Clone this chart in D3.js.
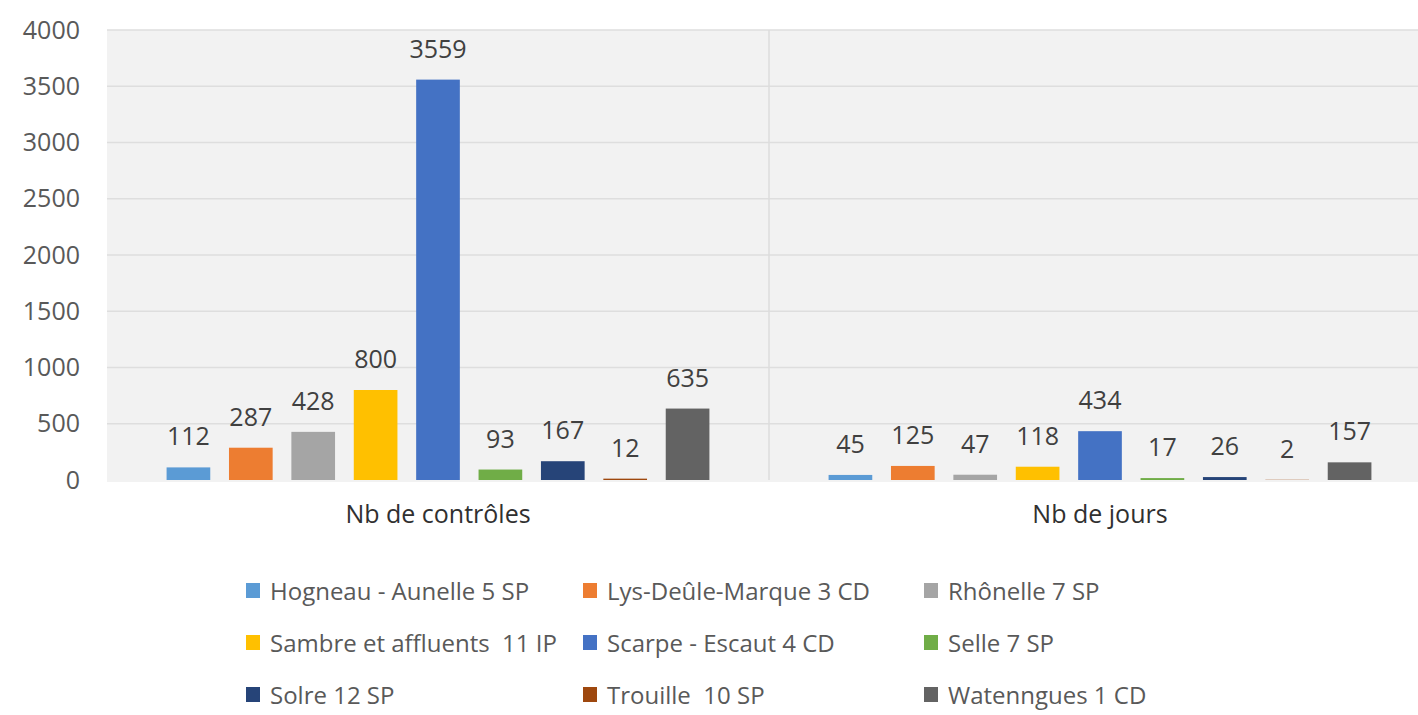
<!DOCTYPE html>
<html lang="fr">
<head>
    <meta charset="UTF-8">
    <title>Contrôles par secteur</title>
    <script src="https://d3js.org/d3.v7.min.js"></script>
    <style>
        body { margin: 0; background: #fff; }
        text { font-family: "Open Sans", "Liberation Sans", sans-serif; }
    </style>
</head>
<body>
<svg id="chart" width="1418" height="715"></svg>

<script>
// categories on the x axis
const categories = ["Nb de contrôles", "Nb de jours"];

// one series per secteur
const series = [
    "Hogneau - Aunelle 5 SP",
    "Lys-Deûle-Marque 3 CD",
    "Rhônelle 7 SP",
    "Sambre et affluents  11 IP",
    "Scarpe - Escaut 4 CD",
    "Selle 7 SP",
    "Solre 12 SP",
    "Trouille  10 SP",
    "Watenngues 1 CD"
];

const colors = ["#5b9bd5", "#ed7d31", "#a5a5a5", "#ffc000", "#4472c4",
                "#70ad47", "#264478", "#9e480e", "#636363"];

// values in the order of series, one array per category
const controles = [112, 287, 428, 800, 3559, 93, 167, 12, 635];
const jours     = [45, 125, 47, 118, 434, 17, 26, 2, 157];

const yTicks = [0, 500, 1000, 1500, 2000, 2500, 3000, 3500, 4000];

const values = [controles, jours];

const svg = d3.select("#chart");

const plotLeft = 107, plotTop = 30, plotBottom = 480;
const bandW = 662;

const x0 = d3.scaleBand()
    .domain(categories)
    .range([plotLeft, plotLeft + bandW * categories.length]);

const x1 = d3.scaleBand()
    .domain(series)
    .range([0, x0.bandwidth()])
    .paddingInner(0.3)
    .paddingOuter(0.955);

const y = d3.scaleLinear()
    .domain([0, 4000])
    .range([plotBottom, plotTop]);

// plot background
svg.append("rect")
    .attr("x", plotLeft)
    .attr("y", plotTop)
    .attr("width", 1418 - plotLeft)
    .attr("height", plotBottom - plotTop + 2)
    .attr("fill", "#f2f2f2");

// gridlines
svg.append("g")
    .selectAll("line")
    .data(yTicks.filter(d => d > 0))
    .join("line")
    .attr("x1", plotLeft)
    .attr("x2", 1418)
    .attr("y1", d => y(d))
    .attr("y2", d => y(d))
    .attr("stroke", "#dedede")
    .attr("stroke-width", 1.5);

// divider between categories
svg.append("line")
    .attr("x1", x0(categories[1]))
    .attr("x2", x0(categories[1]))
    .attr("y1", plotTop)
    .attr("y2", plotBottom)
    .attr("stroke", "#dcdcdc")
    .attr("stroke-width", 1.5);

// y axis
const yAxis = svg.append("g")
    .attr("transform", "translate(80,0)")
    .call(d3.axisLeft(y).tickValues(yTicks).tickFormat(d3.format("d")).tickSize(0).tickPadding(0));
yAxis.select(".domain").remove();
yAxis.selectAll("text")
    .attr("font-size", 25)
    .attr("fill", "#595959")
    .style("font-family", "'Open Sans', 'Liberation Sans', sans-serif");

// bars
const groups = svg.append("g")
    .selectAll("g")
    .data(categories)
    .join("g")
    .attr("transform", d => `translate(${x0(d)},0)`);

groups.selectAll("rect")
    .data((c, i) => series.map((s, j) => ({ s, v: values[i][j], c: colors[j] })))
    .join("rect")
    .attr("x", d => x1(d.s))
    .attr("width", x1.bandwidth())
    .attr("y", d => y(d.v))
    .attr("height", d => plotBottom - y(d.v))
    .attr("fill", d => d.c);

groups.selectAll("text")
    .data((c, i) => series.map((s, j) => ({ s, v: values[i][j] })))
    .join("text")
    .attr("x", d => x1(d.s) + x1.bandwidth() / 2)
    .attr("y", d => y(d.v) - 22)
    .attr("text-anchor", "middle")
    .attr("font-size", 25)
    .attr("fill", "#404040")
    .text(d => d.v);

// category labels
svg.append("g")
    .selectAll("text")
    .data(categories)
    .join("text")
    .attr("x", d => x0(d) + x0.bandwidth() / 2)
    .attr("y", 523)
    .attr("text-anchor", "middle")
    .attr("font-size", 25)
    .attr("fill", "#303030")
    .text(d => d);

// legend, 3 columns
const legCols = [253, 590, 931];
const legRows = [600, 652, 704];

const leg = svg.append("g")
    .selectAll("g")
    .data(series)
    .join("g")
    .attr("transform", (d, i) => `translate(${legCols[i % 3]},${legRows[Math.floor(i / 3)]})`);

leg.append("rect")
    .attr("x", -7)
    .attr("y", -17)
    .attr("width", 14)
    .attr("height", 15)
    .attr("fill", (d, i) => colors[i]);

leg.append("text")
    .attr("x", 17)
    .attr("y", 0)
    .attr("font-size", 24)
    .attr("fill", "#595959")
    .style("white-space", "pre")
    .text(d => d);
</script>
</body>
</html>
